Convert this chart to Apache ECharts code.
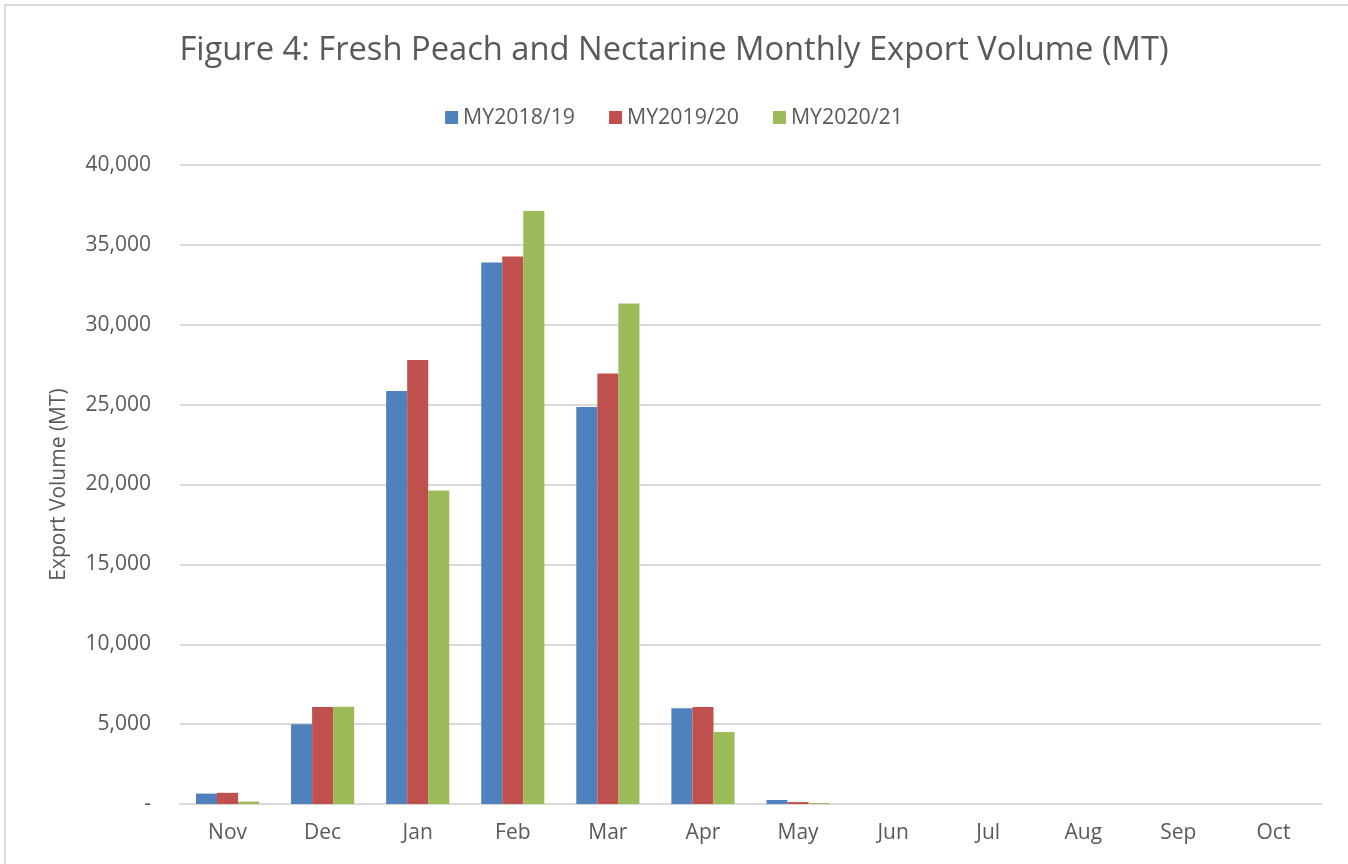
<!DOCTYPE html>
<html>
<head>
<meta charset="utf-8">
<title>Figure 4</title>
<script src="https://cdn.jsdelivr.net/npm/echarts@6/dist/echarts.min.js"></script>
<style>
html, body { margin: 0; padding: 0; background: #fff; }
#chart { width: 1348px; height: 864px; }
</style>
</head>
<body>
<div id="chart"></div>
<script>
// months of the marketing year
var months = ['Nov', 'Dec', 'Jan', 'Feb', 'Mar', 'Apr', 'May', 'Jun', 'Jul', 'Aug', 'Sep', 'Oct'];
var seriesNames = ['MY2018/19', 'MY2019/20', 'MY2020/21'];
// export volume (MT)
var my1819 = [650, 5000, 25850, 33900, 24850, 6000, 250, 0, 0, 0, 0, 0];
var my1920 = [700, 6070, 27800, 34270, 26950, 6070, 120, 0, 0, 0, 0, 0];
var my2021 = [150, 6090, 19620, 37120, 31330, 4500, 60, 0, 0, 0, 0, 0];
var colors = ['#4F81BD', '#C0504D', '#9BBB59'];

var font = '"Open Sans", "Noto Sans", sans-serif';
var grey = '#595959';

var chart = echarts.init(document.getElementById('chart'));

var option = {
    animation: false,
    color: colors,
    title: {
        text: 'Figure 4: Fresh Peach and Nectarine Monthly Export Volume (MT)',
        left: 'center',
        top: 29,
        textStyle: { fontFamily: font, fontSize: 32.7, fontWeight: 'normal', color: grey }
    },
    legend: {
        top: 102,
        left: 'center',
        itemWidth: 13,
        itemHeight: 13,
        itemGap: 34,
        icon: 'rect',
        textStyle: { fontFamily: font, fontSize: 21.3, color: grey }
    },
    graphic: [
        // border of the chart area
        { type: 'polyline', shape: { points: [[5, 870], [5, 5], [1360, 5]] },
          style: { stroke: '#d9d9d9', lineWidth: 2, fill: null } },
        // cut-off heading above the chart
        { type: 'text', left: 14, top: -31,
          style: { text: 'Figure 4: Fresh Peach and Nectarine Monthly Exports', fill: '#000',
                   font: 'bold 31px "Liberation Serif", serif' } }
    ],
    grid: { left: 180, right: 27, top: 165, bottom: 60 },
    xAxis: {
        type: 'category',
        data: months,
        axisLine: { lineStyle: { color: '#d9d9d9', width: 2 } },
        axisTick: { show: false },
        axisLabel: { fontFamily: font, fontSize: 21, color: grey, margin: 19 }
    },
    yAxis: {
        type: 'value',
        min: 0,
        max: 40000,
        interval: 5000,
        name: 'Export Volume (MT)',
        nameLocation: 'middle',
        nameGap: 110,
        nameTextStyle: { fontFamily: font, fontSize: 21, color: grey },
        axisLine: { show: false },
        axisTick: { show: false },
        splitLine: { lineStyle: { color: '#d9d9d9', width: 2 } },
        axisLabel: {
            fontFamily: font, fontSize: 21, color: grey, margin: 29,
            formatter: function (v) { return v === 0 ? '-' : v.toLocaleString('en-US'); }
        }
    },
    series: [
        { name: seriesNames[0], type: 'bar', data: my1819, barGap: '0%', barCategoryGap: '33.6%' },
        { name: seriesNames[1], type: 'bar', data: my1920, barGap: '0%', barCategoryGap: '33.6%' },
        { name: seriesNames[2], type: 'bar', data: my2021, barGap: '0%', barCategoryGap: '33.6%' }
    ]
};
chart.setOption(option);
</script>
</body>
</html>
